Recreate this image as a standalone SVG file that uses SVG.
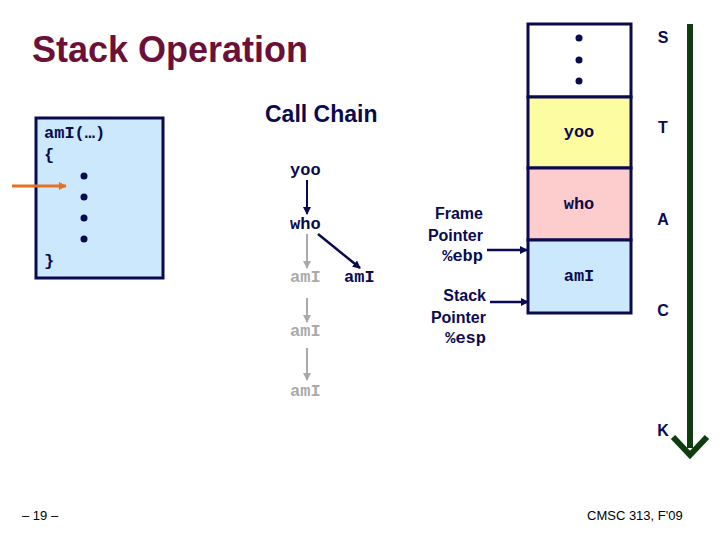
<svg xmlns="http://www.w3.org/2000/svg" width="720" height="540" viewBox="0 0 720 540">
<style>
.m{font-family:"Liberation Mono",monospace;font-weight:bold;font-size:17px;fill:#0a0a50}
.g{fill:#aaaaaa}
.s{font-family:"Liberation Sans",Arial,sans-serif;font-weight:bold;fill:#0a0a50}
.box{stroke:#0a0a50;stroke-width:3}
.dot{fill:#0a0a50}
</style>
<defs>
<marker id="ad" markerWidth="8" markerHeight="8" refX="7" refY="4" orient="auto" markerUnits="userSpaceOnUse"><path d="M0,0L8,4L0,8z" fill="#0a0a50"/></marker>
<marker id="ag" markerWidth="8" markerHeight="8" refX="7" refY="4" orient="auto" markerUnits="userSpaceOnUse"><path d="M0,0L8,4L0,8z" fill="#aaaaaa"/></marker>
<marker id="ao" markerWidth="8" markerHeight="8" refX="7" refY="4" orient="auto" markerUnits="userSpaceOnUse"><path d="M0,0L8,4L0,8z" fill="#e87020"/></marker>
</defs>
<rect width="720" height="540" fill="#fff"/>
<text x="32" y="62" font-family="Liberation Sans,Arial,sans-serif" font-weight="bold" font-size="36" fill="#6b1038">Stack Operation</text>
<g id="code">
<rect x="36" y="118" width="127" height="160" fill="#cce8fc" class="box"/>
<text x="44" y="138" class="m">amI(…)</text>
<text x="44" y="160" class="m">{</text>
<circle cx="84" cy="176" r="3.5" class="dot"/><circle cx="84" cy="197" r="3.5" class="dot"/><circle cx="84" cy="218" r="3.5" class="dot"/><circle cx="84" cy="239" r="3.5" class="dot"/>
<text x="44" y="266" class="m">}</text>
</g>
<text x="265" y="122" class="s" font-size="23" font-weight="normal">Call Chain</text>
<g id="yoo"><text x="290" y="175" class="m">yoo</text></g>
<g id="who"><text x="290" y="229" class="m">who</text></g>
<g id="amI1"><text x="290" y="282" class="m g">amI</text></g>
<g id="amI2"><text x="344" y="282" class="m">amI</text></g>
<g id="amI3"><text x="290" y="336" class="m g">amI</text></g>
<g id="amI4"><text x="290" y="396" class="m g">amI</text></g>
<g id="stack">
<rect x="528" y="24" width="103" height="73" fill="#fff" class="box"/>
<circle cx="579" cy="38" r="3.5" class="dot"/><circle cx="579" cy="60" r="3.5" class="dot"/><circle cx="579" cy="81" r="3.5" class="dot"/>
<rect x="528" y="97" width="103" height="71" fill="#fdfca0" class="box"/>
<text x="579" y="137" class="m" text-anchor="middle">yoo</text>
<rect x="528" y="168" width="103" height="72" fill="#fdcccc" class="box"/>
<text x="579" y="209" class="m" text-anchor="middle">who</text>
<rect x="528" y="240" width="103" height="73" fill="#cce8fc" class="box"/>
<text x="579" y="281" class="m" text-anchor="middle">amI</text>
</g>
<g id="labels" class="s" font-size="16">
<text x="663" y="43" text-anchor="middle">S</text>
<text x="663" y="133" text-anchor="middle">T</text>
<text x="663" y="225" text-anchor="middle">A</text>
<text x="663" y="316" text-anchor="middle">C</text>
<text x="663" y="436" text-anchor="middle">K</text>
</g>
<g id="fp">
<text x="483" y="219" class="s" font-size="16" text-anchor="end">Frame</text>
<text x="483" y="241" class="s" font-size="16" text-anchor="end">Pointer</text>
<text x="483" y="261" class="m" font-weight="normal" text-anchor="end">%ebp</text>
</g>
<g id="sp">
<text x="486" y="301" class="s" font-size="16" text-anchor="end">Stack</text>
<text x="486" y="323" class="s" font-size="16" text-anchor="end">Pointer</text>
<text x="486" y="343" class="m" font-weight="normal" text-anchor="end">%esp</text>
</g>
<g id="connectors" fill="none">
<line x1="12" y1="186" x2="66" y2="186" stroke="#e87020" stroke-width="3" marker-end="url(#ao)"/>
<line x1="307" y1="180" x2="307" y2="214" stroke="#0a0a50" stroke-width="2" marker-end="url(#ad)"/>
<line x1="318" y1="234" x2="360" y2="268" stroke="#0a0a50" stroke-width="2.5" marker-end="url(#ad)"/>
<line x1="307" y1="234" x2="307" y2="268" stroke="#aaaaaa" stroke-width="2" marker-end="url(#ag)"/>
<line x1="307" y1="298" x2="307" y2="322" stroke="#aaaaaa" stroke-width="2" marker-end="url(#ag)"/>
<line x1="307" y1="348" x2="307" y2="380" stroke="#aaaaaa" stroke-width="2" marker-end="url(#ag)"/>
<line x1="487" y1="250" x2="527" y2="250" stroke="#0a0a50" stroke-width="2.5" marker-end="url(#ad)"/>
<line x1="490" y1="302" x2="528" y2="302" stroke="#0a0a50" stroke-width="2.5" marker-end="url(#ad)"/>
<line x1="690" y1="24" x2="690" y2="448" stroke="#0f3d0f" stroke-width="6"/>
<path d="M673,437L690,455L707,437" stroke="#0f3d0f" stroke-width="6"/>
</g>
<text x="22" y="520" font-family="Liberation Sans,Arial,sans-serif" font-size="13">– 19 –</text>
<text x="587" y="520" font-family="Liberation Sans,Arial,sans-serif" font-size="13">CMSC 313, F'09</text>
</svg>
